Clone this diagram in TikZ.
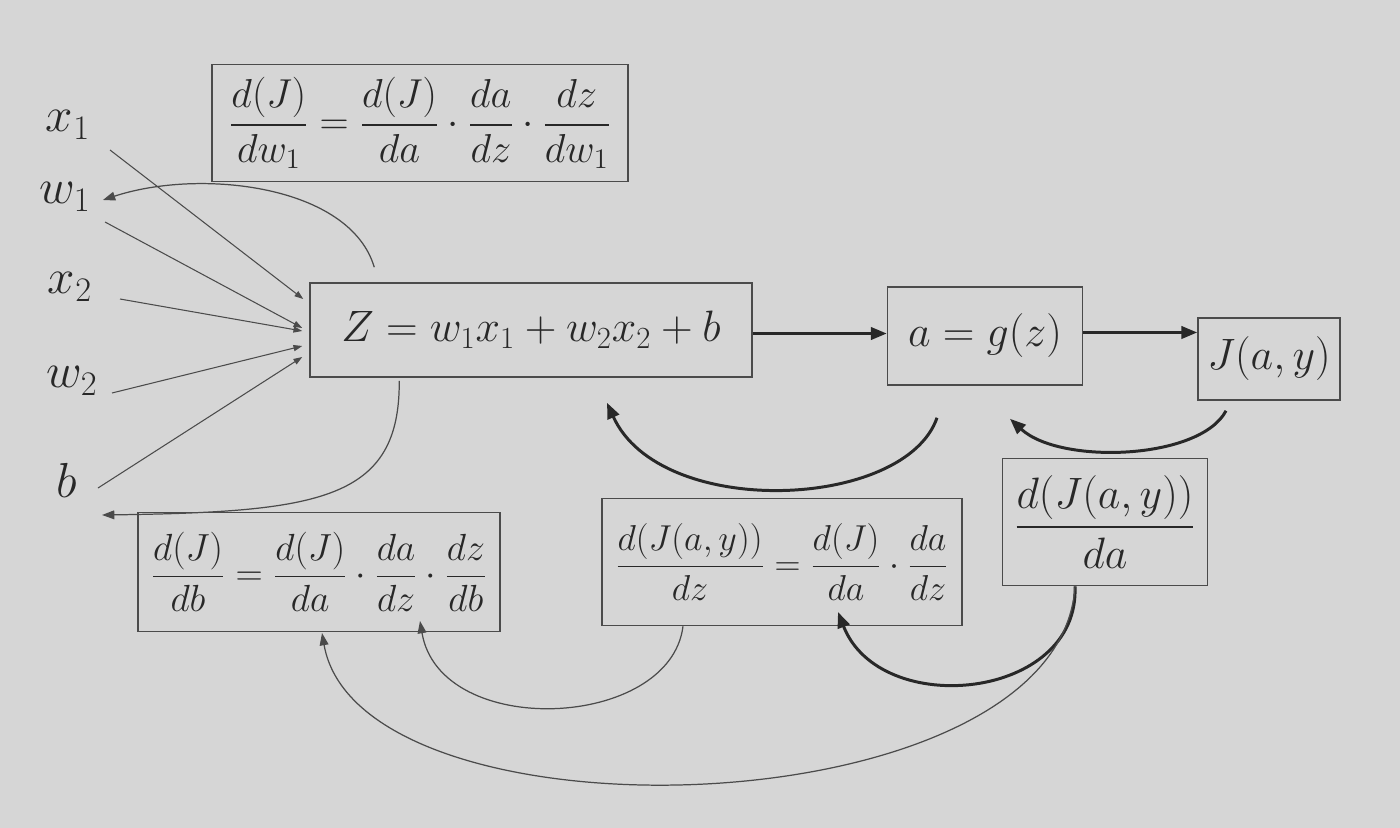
\RequirePackage{fix-cm}
\documentclass[tikz,border=0pt]{standalone}
\usepackage{amsmath}
\usetikzlibrary{arrows.meta,calc}
\definecolor{paper}{RGB}{214,214,214}
\definecolor{ink}{RGB}{40,40,40}
\definecolor{pencil}{RGB}{75,75,75}
\begin{document}
\begin{tikzpicture}[x=0.02cm,y=-0.02cm,
  every node/.style={text=ink},
  lbl/.style={font=\fontsize{28}{32}\selectfont, inner sep=0pt},
  box/.style={draw=pencil, line width=0.9pt, inner sep=0pt, font=\fontsize{25}{30}\selectfont},
  thinarrow/.style={draw=pencil, line width=0.7pt, -{Triangle[length=7pt,width=5pt]}},
  inarrow/.style={draw=pencil, line width=0.6pt, -{Triangle[length=5pt,width=3.5pt]}},
  boldarrow/.style={draw=ink, line width=1.7pt, -{Triangle[length=9pt,width=7pt]}}]
\fill[paper] (0,0) rectangle (1400,828);
\useasboundingbox (0,0) rectangle (1400,828);

% input labels
\node[lbl] (x1) at (68,125) {$x_1$};
\node[lbl] (w1) at (65,197) {$w_1$};
\node[lbl] (x2) at (70,287) {$x_2$};
\node[lbl] (w2) at (72,381) {$w_2$};
\node[lbl] (b)  at (67,480) {$b$};

% boxes
\node[box, minimum width=8.84cm, minimum height=1.88cm] (zbox) at (531,330) {$Z = w_1x_1 + w_2x_2 + b$};
\node[box, minimum width=3.9cm, minimum height=1.96cm] (abox) at (985,336) {$a = g(z)$};
\node[box, minimum width=2.84cm, minimum height=1.64cm] (jbox) at (1269,359) {$J(a,y)$};
\node[box, minimum width=8.32cm, minimum height=2.34cm, font=\fontsize{23}{28}\selectfont] (tbox) at (420,123)
  {$\dfrac{d(J)}{dw_1} = \dfrac{d(J)}{da}\cdot\dfrac{da}{dz}\cdot\dfrac{dz}{dw_1}$};
\node[box, minimum width=7.24cm, minimum height=2.38cm, font=\fontsize{21.5}{26}\selectfont] (lbox) at (319,572)
  {$\dfrac{d(J)}{db} = \dfrac{d(J)}{da}\cdot\dfrac{da}{dz}\cdot\dfrac{dz}{db}$};
\node[box, minimum width=7.2cm, minimum height=2.54cm, font=\fontsize{20.5}{25}\selectfont] (mbox) at (782,562)
  {$\dfrac{d(J(a,y))}{dz} = \dfrac{d(J)}{da}\cdot\dfrac{da}{dz}$};
\node[box, minimum width=4.1cm, minimum height=2.54cm] (rbox) at (1105,522)
  {$\dfrac{d(J(a,y))}{da}$};

% forward arrows
\draw[boldarrow] ([yshift=-2pt]zbox.east) -- ([yshift=-2pt]zbox.east -| abox.west);
\draw[boldarrow] ([yshift=2pt]abox.east) -- ([yshift=2pt]abox.east -| jbox.west);

% inputs into z
\draw[inarrow] ($(x1)+(42,25)$) -- ($(zbox.west)+(-6,-31)$);
\draw[inarrow] ($(w1)+(40,25)$) -- ($(zbox.west)+(-7,-2)$);
\draw[inarrow] ($(x2)+(50,12)$) -- ($(zbox.west)+(-7,1)$);
\draw[inarrow] ($(w2)+(40,12)$) -- ($(zbox.west)+(-7,16)$);
\draw[inarrow] ($(b)+(31,8)$) -- ($(zbox.west)+(-7,27)$);

% backward arrows
\draw[thinarrow] ($(zbox.north west)+(65,-15)$) .. controls (350,185) and (200,168) .. ($(w1.east)+(12,3)$);
\draw[thinarrow] ($(zbox.south west)+(90,3)$) .. controls (400,500) and (320,512) .. ($(b)+(35,35)$);
\draw[boldarrow] ($(abox.south)+(-48,32)$) .. controls (905,510) and (660,520) .. ($(zbox.south)+(76,25)$);
\draw[boldarrow] ($(jbox.south)+(-43,10)$) .. controls (1200,460) and (1060,465) .. ($(abox.south)+(25,33)$);

\coordinate (lda) at (322,633);
\coordinate (ldz) at (420,621);
\coordinate (mda) at (838,612);
\draw[boldarrow] ($(rbox.south)+(-30,0)$) .. controls (1080,700) and (880,720) .. (mda);
\draw[thinarrow] ($(rbox.south)+(-30,0)$) .. controls (1060,830) and (360,850) .. (lda);
\draw[thinarrow] ($(mbox.south)+(-99,0)$) .. controls (670,730) and (440,740) .. (ldz);
\end{tikzpicture}
\end{document}
